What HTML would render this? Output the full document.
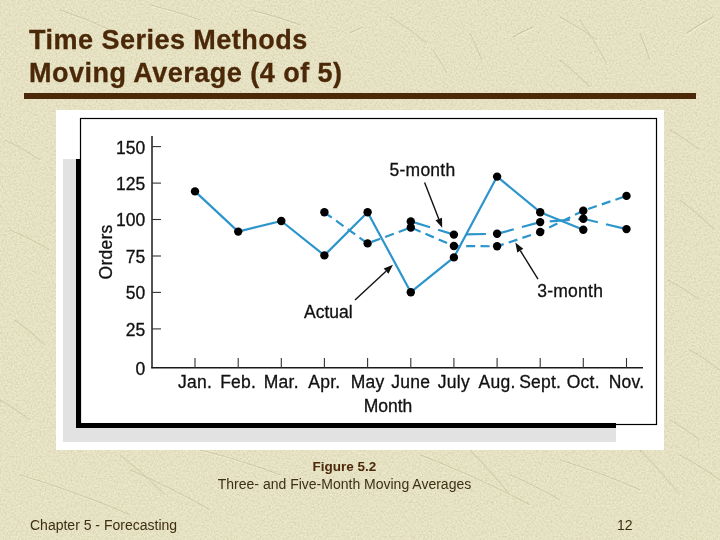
<!DOCTYPE html>
<html><head><meta charset="utf-8">
<style>
html,body{margin:0;padding:0;}
.title,.cap,.foot,svg{will-change:transform;}
body{width:720px;height:540px;overflow:hidden;position:relative;background:#e8e4c6;font-family:"Liberation Sans",sans-serif;}
.title{position:absolute;left:29px;top:23.5px;font-weight:bold;font-size:27px;letter-spacing:0.48px;line-height:33px;color:#4a2808;white-space:nowrap;-webkit-text-stroke:0.3px #4a2808;}
.rule{position:absolute;left:24px;top:93px;width:672px;height:6px;background:#4a2808;}
svg{position:absolute;left:0;top:0;}
.ax{font-family:"Liberation Sans",sans-serif;font-size:17.5px;letter-spacing:0.25px;fill:#111;stroke:#111;stroke-width:0.3px;}
.cap{position:absolute;left:0;width:689px;text-align:center;white-space:nowrap;color:#3e3014;}
.foot{position:absolute;top:517px;font-size:14px;color:#3e2e12;white-space:nowrap;}
</style></head><body>
<svg width="720" height="540" style="position:absolute;left:0;top:0">
<defs>
<filter id="grain" x="0" y="0" width="100%" height="100%" filterUnits="userSpaceOnUse">
<feTurbulence type="fractalNoise" baseFrequency="0.55" numOctaves="3" seed="7" result="t"/>
<feColorMatrix in="t" type="matrix" values="0 0 0 0 0.45  0 0 0 0 0.40  0 0 0 0 0.22  0.9 0 0 0 -0.40" result="dark"/>
<feColorMatrix in="t" type="matrix" values="0 0 0 0 1  0 0 0 0 0.98  0 0 0 0 0.85  -0.9 0 0 0 0.42" result="light"/>
<feMerge><feMergeNode in="dark"/><feMergeNode in="light"/></feMerge>
</filter>
</defs>
<rect x="0" y="0" width="720" height="540" filter="url(#grain)" opacity="0.85"/>
<path d="M560.0 17.0Q579.2 27.4 597.0 40.0" stroke="#fffbe6" stroke-opacity="0.45" stroke-width="1.3" fill="none" transform="translate(1,1)"/>
<path d="M560.0 17.0Q579.2 27.4 597.0 40.0" stroke="#8a8050" stroke-opacity="0.28" stroke-width="1.2" fill="none"/>
<path d="M580.0 20.0Q594.8 40.7 607.0 63.0" stroke="#fffbe6" stroke-opacity="0.45" stroke-width="1.3" fill="none" transform="translate(1,1)"/>
<path d="M580.0 20.0Q594.8 40.7 607.0 63.0" stroke="#8a8050" stroke-opacity="0.28" stroke-width="1.2" fill="none"/>
<path d="M513.0 37.0Q522.7 31.4 533.0 27.0" stroke="#fffbe6" stroke-opacity="0.45" stroke-width="1.3" fill="none" transform="translate(1,1)"/>
<path d="M513.0 37.0Q522.7 31.4 533.0 27.0" stroke="#8a8050" stroke-opacity="0.28" stroke-width="1.2" fill="none"/>
<path d="M640.0 33.0Q645.8 46.2 650.0 60.0" stroke="#fffbe6" stroke-opacity="0.45" stroke-width="1.3" fill="none" transform="translate(1,1)"/>
<path d="M640.0 33.0Q645.8 46.2 650.0 60.0" stroke="#8a8050" stroke-opacity="0.28" stroke-width="1.2" fill="none"/>
<path d="M687.0 33.0Q699.5 24.2 713.0 17.0" stroke="#fffbe6" stroke-opacity="0.45" stroke-width="1.3" fill="none" transform="translate(1,1)"/>
<path d="M687.0 33.0Q699.5 24.2 713.0 17.0" stroke="#8a8050" stroke-opacity="0.28" stroke-width="1.2" fill="none"/>
<path d="M560.0 60.0Q575.8 72.6 590.0 87.0" stroke="#fffbe6" stroke-opacity="0.45" stroke-width="1.3" fill="none" transform="translate(1,1)"/>
<path d="M560.0 60.0Q575.8 72.6 590.0 87.0" stroke="#8a8050" stroke-opacity="0.28" stroke-width="1.2" fill="none"/>
<path d="M350.0 33.0Q356.3 29.6 363.0 27.0" stroke="#fffbe6" stroke-opacity="0.45" stroke-width="1.3" fill="none" transform="translate(1,1)"/>
<path d="M350.0 33.0Q356.3 29.6 363.0 27.0" stroke="#8a8050" stroke-opacity="0.28" stroke-width="1.2" fill="none"/>
<path d="M390.0 17.0Q409.3 28.9 427.0 43.0" stroke="#fffbe6" stroke-opacity="0.45" stroke-width="1.3" fill="none" transform="translate(1,1)"/>
<path d="M390.0 17.0Q409.3 28.9 427.0 43.0" stroke="#8a8050" stroke-opacity="0.28" stroke-width="1.2" fill="none"/>
<path d="M433.0 50.0Q440.7 61.1 447.0 73.0" stroke="#fffbe6" stroke-opacity="0.45" stroke-width="1.3" fill="none" transform="translate(1,1)"/>
<path d="M433.0 50.0Q440.7 61.1 447.0 73.0" stroke="#8a8050" stroke-opacity="0.28" stroke-width="1.2" fill="none"/>
<path d="M470.0 33.0Q476.8 46.1 482.0 60.0" stroke="#fffbe6" stroke-opacity="0.45" stroke-width="1.3" fill="none" transform="translate(1,1)"/>
<path d="M470.0 33.0Q476.8 46.1 482.0 60.0" stroke="#8a8050" stroke-opacity="0.28" stroke-width="1.2" fill="none"/>
<path d="M20.0 475.0Q76.2 491.7 130.0 515.0" stroke="#fffbe6" stroke-opacity="0.45" stroke-width="1.3" fill="none" transform="translate(1,1)"/>
<path d="M20.0 475.0Q76.2 491.7 130.0 515.0" stroke="#8a8050" stroke-opacity="0.28" stroke-width="1.2" fill="none"/>
<path d="M120.0 455.0Q143.7 473.6 165.0 495.0" stroke="#fffbe6" stroke-opacity="0.45" stroke-width="1.3" fill="none" transform="translate(1,1)"/>
<path d="M120.0 455.0Q143.7 473.6 165.0 495.0" stroke="#8a8050" stroke-opacity="0.28" stroke-width="1.2" fill="none"/>
<path d="M130.0 470.0Q171.2 487.6 210.0 510.0" stroke="#fffbe6" stroke-opacity="0.45" stroke-width="1.3" fill="none" transform="translate(1,1)"/>
<path d="M130.0 470.0Q171.2 487.6 210.0 510.0" stroke="#8a8050" stroke-opacity="0.28" stroke-width="1.2" fill="none"/>
<path d="M200.0 450.0Q240.8 460.1 280.0 475.0" stroke="#fffbe6" stroke-opacity="0.45" stroke-width="1.3" fill="none" transform="translate(1,1)"/>
<path d="M200.0 450.0Q240.8 460.1 280.0 475.0" stroke="#8a8050" stroke-opacity="0.28" stroke-width="1.2" fill="none"/>
<path d="M420.0 455.0Q476.5 476.7 530.0 505.0" stroke="#fffbe6" stroke-opacity="0.45" stroke-width="1.3" fill="none" transform="translate(1,1)"/>
<path d="M420.0 455.0Q476.5 476.7 530.0 505.0" stroke="#8a8050" stroke-opacity="0.28" stroke-width="1.2" fill="none"/>
<path d="M470.0 450.0Q491.4 471.3 510.0 495.0" stroke="#fffbe6" stroke-opacity="0.45" stroke-width="1.3" fill="none" transform="translate(1,1)"/>
<path d="M470.0 450.0Q491.4 471.3 510.0 495.0" stroke="#8a8050" stroke-opacity="0.28" stroke-width="1.2" fill="none"/>
<path d="M560.0 460.0Q600.9 472.6 640.0 490.0" stroke="#fffbe6" stroke-opacity="0.45" stroke-width="1.3" fill="none" transform="translate(1,1)"/>
<path d="M560.0 460.0Q600.9 472.6 640.0 490.0" stroke="#8a8050" stroke-opacity="0.28" stroke-width="1.2" fill="none"/>
<path d="M640.0 450.0Q661.4 471.3 680.0 495.0" stroke="#fffbe6" stroke-opacity="0.45" stroke-width="1.3" fill="none" transform="translate(1,1)"/>
<path d="M640.0 450.0Q661.4 471.3 680.0 495.0" stroke="#8a8050" stroke-opacity="0.28" stroke-width="1.2" fill="none"/>
<path d="M510.0 475.0Q535.8 486.0 560.0 500.0" stroke="#fffbe6" stroke-opacity="0.45" stroke-width="1.3" fill="none" transform="translate(1,1)"/>
<path d="M510.0 475.0Q535.8 486.0 560.0 500.0" stroke="#8a8050" stroke-opacity="0.28" stroke-width="1.2" fill="none"/>
<path d="M680.0 455.0Q700.8 466.3 720.0 480.0" stroke="#fffbe6" stroke-opacity="0.45" stroke-width="1.3" fill="none" transform="translate(1,1)"/>
<path d="M680.0 455.0Q700.8 466.3 720.0 480.0" stroke="#8a8050" stroke-opacity="0.28" stroke-width="1.2" fill="none"/>
<path d="M5.0 140.0Q23.1 148.9 40.0 160.0" stroke="#fffbe6" stroke-opacity="0.45" stroke-width="1.3" fill="none" transform="translate(1,1)"/>
<path d="M5.0 140.0Q23.1 148.9 40.0 160.0" stroke="#8a8050" stroke-opacity="0.28" stroke-width="1.2" fill="none"/>
<path d="M10.0 230.0Q30.6 238.8 50.0 250.0" stroke="#fffbe6" stroke-opacity="0.45" stroke-width="1.3" fill="none" transform="translate(1,1)"/>
<path d="M10.0 230.0Q30.6 238.8 50.0 250.0" stroke="#8a8050" stroke-opacity="0.28" stroke-width="1.2" fill="none"/>
<path d="M15.0 320.0Q30.8 331.6 45.0 345.0" stroke="#fffbe6" stroke-opacity="0.45" stroke-width="1.3" fill="none" transform="translate(1,1)"/>
<path d="M15.0 320.0Q30.8 331.6 45.0 345.0" stroke="#8a8050" stroke-opacity="0.28" stroke-width="1.2" fill="none"/>
<path d="M0.0 400.0Q15.6 409.1 30.0 420.0" stroke="#fffbe6" stroke-opacity="0.45" stroke-width="1.3" fill="none" transform="translate(1,1)"/>
<path d="M0.0 400.0Q15.6 409.1 30.0 420.0" stroke="#8a8050" stroke-opacity="0.28" stroke-width="1.2" fill="none"/>
<path d="M670.0 130.0Q685.6 139.1 700.0 150.0" stroke="#fffbe6" stroke-opacity="0.45" stroke-width="1.3" fill="none" transform="translate(1,1)"/>
<path d="M670.0 130.0Q685.6 139.1 700.0 150.0" stroke="#8a8050" stroke-opacity="0.28" stroke-width="1.2" fill="none"/>
<path d="M680.0 200.0Q698.4 213.9 715.0 230.0" stroke="#fffbe6" stroke-opacity="0.45" stroke-width="1.3" fill="none" transform="translate(1,1)"/>
<path d="M680.0 200.0Q698.4 213.9 715.0 230.0" stroke="#8a8050" stroke-opacity="0.28" stroke-width="1.2" fill="none"/>
<path d="M668.0 280.0Q684.6 289.0 700.0 300.0" stroke="#fffbe6" stroke-opacity="0.45" stroke-width="1.3" fill="none" transform="translate(1,1)"/>
<path d="M668.0 280.0Q684.6 289.0 700.0 300.0" stroke="#8a8050" stroke-opacity="0.28" stroke-width="1.2" fill="none"/>
<path d="M690.0 350.0Q705.6 359.1 720.0 370.0" stroke="#fffbe6" stroke-opacity="0.45" stroke-width="1.3" fill="none" transform="translate(1,1)"/>
<path d="M690.0 350.0Q705.6 359.1 720.0 370.0" stroke="#8a8050" stroke-opacity="0.28" stroke-width="1.2" fill="none"/>
<path d="M670.0 420.0Q685.6 429.1 700.0 440.0" stroke="#fffbe6" stroke-opacity="0.45" stroke-width="1.3" fill="none" transform="translate(1,1)"/>
<path d="M670.0 420.0Q685.6 429.1 700.0 440.0" stroke="#8a8050" stroke-opacity="0.28" stroke-width="1.2" fill="none"/>
<path d="M60.0 10.0Q85.6 18.5 110.0 30.0" stroke="#fffbe6" stroke-opacity="0.45" stroke-width="1.3" fill="none" transform="translate(1,1)"/>
<path d="M60.0 10.0Q85.6 18.5 110.0 30.0" stroke="#8a8050" stroke-opacity="0.28" stroke-width="1.2" fill="none"/>
<path d="M150.0 5.0Q175.4 11.0 200.0 20.0" stroke="#fffbe6" stroke-opacity="0.45" stroke-width="1.3" fill="none" transform="translate(1,1)"/>
<path d="M150.0 5.0Q175.4 11.0 200.0 20.0" stroke="#8a8050" stroke-opacity="0.28" stroke-width="1.2" fill="none"/>
<path d="M250.0 10.0Q275.4 16.0 300.0 25.0" stroke="#fffbe6" stroke-opacity="0.45" stroke-width="1.3" fill="none" transform="translate(1,1)"/>
<path d="M250.0 10.0Q275.4 16.0 300.0 25.0" stroke="#8a8050" stroke-opacity="0.28" stroke-width="1.2" fill="none"/>
</svg>
<div class="title">Time Series Methods<br>Moving Average (4 of 5)</div>
<div class="rule"></div>
<svg width="720" height="540" viewBox="0 0 720 540">
<rect x="56" y="110" width="608" height="340" fill="#ffffff"/>
<rect x="63" y="159" width="13" height="283" fill="#e2e2e2"/>
<rect x="63" y="428" width="553" height="14" fill="#e2e2e2"/>
<rect x="80.5" y="118.5" width="576" height="306" fill="none" stroke="#000" stroke-width="1.2"/>
<rect x="76" y="159" width="5" height="269" fill="#000"/>
<rect x="76" y="423" width="540" height="5" fill="#000"/>
<line x1="152" y1="136" x2="152" y2="368.3" stroke="#1a1a1a" stroke-width="1.5"/>
<line x1="151.3" y1="367.7" x2="643" y2="367.7" stroke="#1a1a1a" stroke-width="1.5"/>
<line x1="152" y1="328.9" x2="161" y2="328.9" stroke="#333" stroke-width="1.1"/>
<text x="145.3" y="335.8" text-anchor="end" class="ax" style="letter-spacing:0">25</text>
<line x1="152" y1="292.4" x2="161" y2="292.4" stroke="#333" stroke-width="1.1"/>
<text x="145.3" y="299.3" text-anchor="end" class="ax" style="letter-spacing:0">50</text>
<line x1="152" y1="256.0" x2="161" y2="256.0" stroke="#333" stroke-width="1.1"/>
<text x="145.3" y="262.9" text-anchor="end" class="ax" style="letter-spacing:0">75</text>
<line x1="152" y1="219.5" x2="161" y2="219.5" stroke="#333" stroke-width="1.1"/>
<text x="145.3" y="226.4" text-anchor="end" class="ax" style="letter-spacing:0">100</text>
<line x1="152" y1="183.1" x2="161" y2="183.1" stroke="#333" stroke-width="1.1"/>
<text x="145.3" y="190.0" text-anchor="end" class="ax" style="letter-spacing:0">125</text>
<line x1="152" y1="146.6" x2="161" y2="146.6" stroke="#333" stroke-width="1.1"/>
<text x="145.3" y="153.5" text-anchor="end" class="ax" style="letter-spacing:0">150</text>
<text x="145.3" y="375.0" text-anchor="end" class="ax" style="letter-spacing:0">0</text>
<line x1="195.0" y1="358" x2="195.0" y2="367.7" stroke="#333" stroke-width="1.1"/>
<text x="195.0" y="388" text-anchor="middle" class="ax">Jan.</text>
<line x1="238.2" y1="358" x2="238.2" y2="367.7" stroke="#333" stroke-width="1.1"/>
<text x="238.2" y="388" text-anchor="middle" class="ax">Feb.</text>
<line x1="281.3" y1="358" x2="281.3" y2="367.7" stroke="#333" stroke-width="1.1"/>
<text x="281.3" y="388" text-anchor="middle" class="ax">Mar.</text>
<line x1="324.4" y1="358" x2="324.4" y2="367.7" stroke="#333" stroke-width="1.1"/>
<text x="324.4" y="388" text-anchor="middle" class="ax">Apr.</text>
<line x1="367.6" y1="358" x2="367.6" y2="367.7" stroke="#333" stroke-width="1.1"/>
<text x="367.6" y="388" text-anchor="middle" class="ax">May</text>
<line x1="410.8" y1="358" x2="410.8" y2="367.7" stroke="#333" stroke-width="1.1"/>
<text x="410.8" y="388" text-anchor="middle" class="ax">June</text>
<line x1="453.9" y1="358" x2="453.9" y2="367.7" stroke="#333" stroke-width="1.1"/>
<text x="453.9" y="388" text-anchor="middle" class="ax">July</text>
<line x1="497.1" y1="358" x2="497.1" y2="367.7" stroke="#333" stroke-width="1.1"/>
<text x="497.1" y="388" text-anchor="middle" class="ax">Aug.</text>
<line x1="540.2" y1="358" x2="540.2" y2="367.7" stroke="#333" stroke-width="1.1"/>
<text x="540.2" y="388" text-anchor="middle" class="ax">Sept.</text>
<line x1="583.3" y1="358" x2="583.3" y2="367.7" stroke="#333" stroke-width="1.1"/>
<text x="583.3" y="388" text-anchor="middle" class="ax">Oct.</text>
<line x1="626.5" y1="358" x2="626.5" y2="367.7" stroke="#333" stroke-width="1.1"/>
<text x="626.5" y="388" text-anchor="middle" class="ax">Nov.</text>
<text x="388" y="412" text-anchor="middle" class="ax" style="letter-spacing:0">Month</text>
<text transform="translate(112,252) rotate(-90)" text-anchor="middle" class="ax">Orders</text>
<polyline points="195.0,191.4 238.2,231.6 281.3,221.0 324.4,255.4 367.6,212.2 410.8,292.2 453.9,257.4 497.1,176.6 540.2,212.2 583.3,229.7" fill="none" stroke="#2c95cb" stroke-width="2.2" stroke-linejoin="round"/>
<polyline points="410.8,221.4 453.9,234.6 497.1,233.8 540.2,222.1 583.3,218.8 626.5,229.1" fill="none" stroke="#2c95cb" stroke-width="2.2" stroke-dasharray="20.1 8.4"/>
<polyline points="324.4,212.3 367.6,243.4 410.8,227.5 453.9,246.0 497.1,246.3 540.2,232.0 583.3,210.7 626.5,195.9" fill="none" stroke="#2c95cb" stroke-width="2.2" stroke-dasharray="9.1 5.3"/>
<circle cx="195.0" cy="191.4" r="4.2" fill="#000"/>
<circle cx="238.2" cy="231.6" r="4.2" fill="#000"/>
<circle cx="281.3" cy="221.0" r="4.2" fill="#000"/>
<circle cx="324.4" cy="255.4" r="4.2" fill="#000"/>
<circle cx="367.6" cy="212.2" r="4.2" fill="#000"/>
<circle cx="410.8" cy="292.2" r="4.2" fill="#000"/>
<circle cx="453.9" cy="257.4" r="4.2" fill="#000"/>
<circle cx="497.1" cy="176.6" r="4.2" fill="#000"/>
<circle cx="540.2" cy="212.2" r="4.2" fill="#000"/>
<circle cx="583.3" cy="229.7" r="4.2" fill="#000"/>
<circle cx="410.8" cy="221.4" r="4.2" fill="#000"/>
<circle cx="453.9" cy="234.6" r="4.2" fill="#000"/>
<circle cx="497.1" cy="233.8" r="4.2" fill="#000"/>
<circle cx="540.2" cy="222.1" r="4.2" fill="#000"/>
<circle cx="583.3" cy="218.8" r="4.2" fill="#000"/>
<circle cx="626.5" cy="229.1" r="4.2" fill="#000"/>
<circle cx="324.4" cy="212.3" r="4.2" fill="#000"/>
<circle cx="367.6" cy="243.4" r="4.2" fill="#000"/>
<circle cx="410.8" cy="227.5" r="4.2" fill="#000"/>
<circle cx="453.9" cy="246.0" r="4.2" fill="#000"/>
<circle cx="497.1" cy="246.3" r="4.2" fill="#000"/>
<circle cx="540.2" cy="232.0" r="4.2" fill="#000"/>
<circle cx="583.3" cy="210.7" r="4.2" fill="#000"/>
<circle cx="626.5" cy="195.9" r="4.2" fill="#000"/>
<text x="389.5" y="176.3" class="ax">5-month</text>
<text x="304" y="318.3" class="ax" style="letter-spacing:0">Actual</text>
<text x="537.2" y="296.7" class="ax">3-month</text>
<line x1="424.6" y1="182.4" x2="438.8" y2="218.9" stroke="#111" stroke-width="1.4"/><polygon points="442.2,227.8 435.5,220.2 442.0,217.7" fill="#111"/>
<line x1="355.0" y1="300.0" x2="386.0" y2="271.2" stroke="#111" stroke-width="1.4"/><polygon points="393.0,264.7 388.4,273.7 383.7,268.6" fill="#111"/>
<line x1="538.0" y1="279.2" x2="520.3" y2="250.6" stroke="#111" stroke-width="1.4"/><polygon points="515.3,242.5 523.3,248.7 517.3,252.4" fill="#111"/>
</svg>
<div class="cap" style="top:459px;font-size:13.5px;font-weight:bold;color:#4a2808;">Figure 5.2</div>
<div class="cap" style="top:476px;font-size:14px;">Three- and Five-Month Moving Averages</div>
<div class="foot" style="left:30px;">Chapter 5 - Forecasting</div>
<div class="foot" style="left:617px;">12</div>
</body></html>
